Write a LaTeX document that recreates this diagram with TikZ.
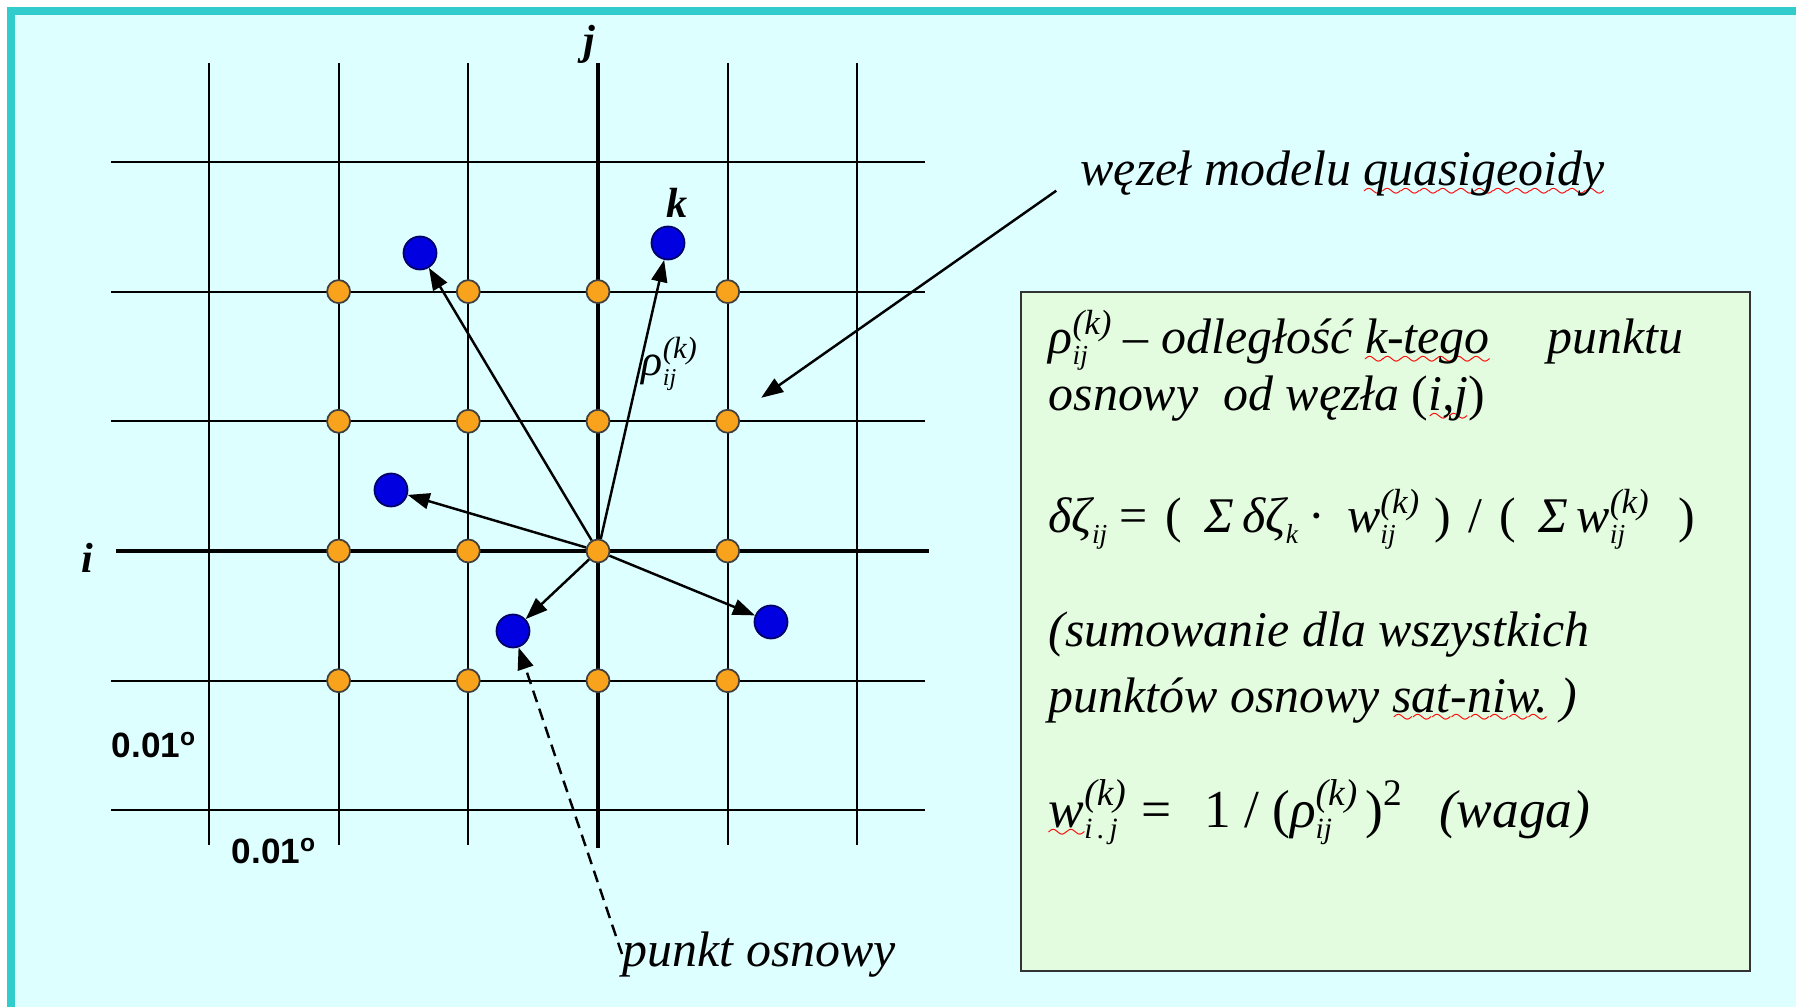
\documentclass[tikz,border=0pt]{standalone}
\usepackage{fontspec}
\setmainfont{Liberation Serif}
\newfontfamily\degfont{Liberation Sans}
\usetikzlibrary{arrows.meta}
\definecolor{framecyan}{HTML}{33CCCC}
\definecolor{slidebg}{HTML}{DDFFFF}
\definecolor{boxgreen}{HTML}{E3FCDF}
\definecolor{nodeorange}{HTML}{F9A31C}
\definecolor{pointblue}{HTML}{0000E0}
\font\sixly=lasy6
\newcommand{\spellerr}[1]{\setbox0\hbox{#1}%
  \rlap{\textcolor{red}{\lower3pt\hbox to\wd0{\xleaders\hbox{\sixly\char58}\hfil}}}\box0}
\newcommand{\isub}[1]{\raisebox{-0.22em}{\scalebox{0.55}{#1}}}
\newcommand{\isup}[1]{\raisebox{0.4em}{\scalebox{0.7}{#1}}}
\newcommand{\ixs}[2]{\rlap{\isub{#1}}\isup{#2}}

\begin{document}
\begin{tikzpicture}[
  x=0.1mm, y=-0.1mm,
  >={Triangle[length=2.2mm, width=1.6mm]},
  gridline/.style={line width=0.6pt},
  axis/.style={line width=1.3pt},
  wezel/.style={circle, draw=black!75, fill=nodeorange, line width=0.5pt,
    minimum size=2.3mm, inner sep=0pt},
  punkt/.style={circle, draw=blue!40!black, fill=pointblue, line width=0.5pt,
    minimum size=3.3mm, inner sep=0pt},
  ray/.style={->, line width=0.7pt},
  axlab/.style={font=\fontsize{12}{14}\selectfont\bfseries\itshape},
  txt/.style={font=\fontsize{14.2}{17}\selectfont\itshape, inner sep=0pt,
    anchor=base west},
  deg/.style={font=\degfont\fontsize{10}{12}\selectfont\bfseries,
    anchor=west, inner sep=0pt}
]
% slide background and frame
\useasboundingbox (0,0) rectangle (1796,1007);
\fill[white] (0,0) rectangle (1796,1007);
\fill[framecyan] (7,7) rectangle (1796,1007);
\fill[slidebg] (15,15) rectangle (1796,1007);
% grid of the model
\foreach \c in {-3,-2,-1,1,2}
  \draw[gridline] ({598+129.7*\c},63) -- ({598+129.7*\c},845);
\foreach \r in {-2,-1,1,2,3}
  \draw[gridline] (111,{551-129.7*\r}) -- (925,{551-129.7*\r});
\draw[axis] (598,63) -- (598,848);
\draw[axis] (116,551) -- (929,551);
\node[axlab] (li) at (87,558) {i};
\node[axlab] (lj) at (589,44) {j};
% grid nodes
\foreach \c [count=\ci] in {-2,...,1}
  \foreach \r [count=\ri] in {-1,...,2}
    \node[wezel] (n\ci\ri) at ({598+129.7*\c},{551-129.7*\r}) {};
% control points
\node[punkt] (p1) at (420,253) {};
\node[punkt] (pk) at (668,243) {};
\node[punkt] (p3) at (391,490) {};
\node[punkt] (p4) at (513,631) {};
\node[punkt] (p5) at (771,622) {};
\node[axlab] (lk) at (677,203) {k};
\foreach \p in {p1,pk,p3,p4,p5}
  \draw[ray] (n32) -- (\p);
\node[txt, font=\fontsize{12.5}{14}\selectfont\itshape] (rho) at (641,376)
  {ρ\ixs{ij}{(k)}};
% spacing of the grid
\node[deg] (dy) at (111,745) {0.01\textsuperscript{o}};
\node[deg] (dx) at (231,851) {0.01\textsuperscript{o}};
% callouts
\node[txt] (wezel) at (1080,186) {węzeł modelu \spellerr{quasigeoidy}};
\draw[ray, shorten <=2.9mm, shorten >=2.85mm] (wezel.west) -- (n43);
\node[txt] (punkt) at (622,966) {punkt osnowy};
\draw[ray, dash pattern=on 1.2mm off 0.7mm] (punkt.west) -- (p4);
% formulas
\draw[fill=boxgreen, draw=black!80, line width=0.6pt]
  (1020.6,292) rectangle (1750,971);
\node[txt] (l1) at (1048,354)
  {ρ\ixs{ij}{(k)} – odległość \spellerr{k-tego}\hspace{1.15em}punktu};
\node[txt] (l2) at (1048,411)
  {osnowy\ \ od węzła \textup{(}\spellerr{i,j}\textup{)}};
\node[txt] (l3) at (1048,533)
  {δζ\isub{ij}\hspace{0.25em}\textup{=}\hspace{0.35em}\textup{(}\hspace{0.45em}Σ\,δζ\isub{k}\hspace{0.2em}\textup{·}\hspace{0.45em}w\ixs{ij}{(k)}\hspace{0.3em}\textup{)}\hspace{0.35em}\textup{/}\hspace{0.35em}\textup{(}\hspace{0.45em}Σ\,w\ixs{ij}{(k)}\hspace{0.6em}\textup{)}};
\node[txt] (l4) at (1048,647) {(sumowanie dla wszystkich};
\node[txt] (l5) at (1048,712) {punktów osnowy \spellerr{sat-niw.}\ )};
\node[txt, font=\fontsize{15.2}{18}\selectfont\itshape] (l6) at (1048,827)
  {\spellerr{w}\ixs{i\,.\,j}{(k)}\hspace{0.3em}\textup{=}\hspace{0.6em}\textup{1 / (}ρ\ixs{ij}{(k)}\hspace{0.15em}\textup{)}\isup{\textup{2}}\hspace{0.7em}(waga)};
\end{tikzpicture}
\end{document}
